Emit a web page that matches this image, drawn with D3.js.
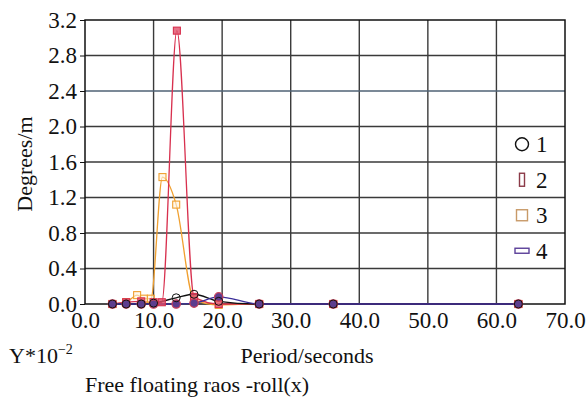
<!DOCTYPE html>
<html>
<head>
<meta charset="utf-8">
<script src="https://cdn.jsdelivr.net/npm/d3@7"></script>
<style>
  body { margin: 0; background: #fff; }
  svg, svg text { font-family: "Liberation Serif", "DejaVu Serif", serif !important; }
</style>
</head>
<body>
<div id="container"></div>
<script>
// periods (seconds) for each series
const periods1 = [4.0, 6.0, 8.2, 10.0, 13.3, 15.9, 19.5, 25.4, 36.2, 63.2];
const values1  = [0.0, 0.0, 0.0, 0.01, 0.07, 0.11, 0.03, 0.0, 0.0, 0.0];

const periods2 = [4.0, 6.0, 8.2, 10.0, 11.2, 13.4, 15.9, 19.5, 25.4, 36.2, 63.2];
const values2  = [0.0, 0.02, 0.03, 0.02, 0.02, 3.08, 0.08, 0.0, 0.0, 0.0, 0.0];

const periods3 = [4.0, 6.0, 7.6, 8.6, 9.6, 11.3, 13.3, 15.9, 19.5, 25.4, 36.2, 63.2];
const values3  = [0.0, 0.02, 0.10, 0.06, 0.06, 1.43, 1.12, 0.05, -0.01, 0.0, 0.0, 0.0];

const periods4 = [4.0, 6.0, 8.2, 10.0, 13.3, 15.9, 19.5, 25.4, 36.2, 63.2];
const values4  = [0.0, 0.0, 0.0, 0.0, 0.0, 0.01, 0.08, 0.0, 0.0, 0.0];

const seriesNames = ["1", "2", "3", "4"];
const xTicks = [0, 10, 20, 30, 40, 50, 60, 70];
const yTicks = [0, 0.4, 0.8, 1.2, 1.6, 2.0, 2.4, 2.8, 3.2];

const width = 587, height = 401;
const margin = {left: 85, right: 22, top: 20, bottom: 97};

const svg = d3.select("#container").append("svg")
    .attr("width", width)
    .attr("height", height);

const x = d3.scaleLinear().domain([0, 70]).range([margin.left, width - margin.right]);
const y = d3.scaleLinear().domain([0, 3.2]).range([height - margin.bottom, margin.top]);

// grid lines
svg.append("g")
    .selectAll("line")
    .data(xTicks.slice(1, -1))
    .join("line")
    .attr("x1", d => x(d)).attr("x2", d => x(d))
    .attr("y1", y(0)).attr("y2", y(3.2))
    .attr("stroke", "#3a3a3a")
    .attr("stroke-width", 1.4);

svg.append("g")
    .selectAll("line")
    .data(yTicks.slice(1, -1))
    .join("line")
    .attr("x1", x(0)).attr("x2", x(70))
    .attr("y1", d => y(d)).attr("y2", d => y(d))
    .attr("stroke", d => d === 2.4 ? "#4f6275" : "#3a3a3a")
    .attr("stroke-width", 1.4);

// plot border
svg.append("rect")
    .attr("x", x(0)).attr("y", y(3.2))
    .attr("width", x(70) - x(0)).attr("height", y(0) - y(3.2))
    .attr("fill", "none")
    .attr("stroke", "#111")
    .attr("stroke-width", 1.5);

// axes
const yAxis = svg.append("g")
    .attr("transform", `translate(${x(0)},0)`)
    .call(d3.axisLeft(y).tickValues(yTicks).tickFormat(d3.format(".1f")).tickSize(5).tickPadding(3));
yAxis.attr("font-family", null).attr("font-size", null);
yAxis.select(".domain").remove();
yAxis.selectAll("text").style("font-size", "23px").attr("fill", "#111");
yAxis.selectAll("line").attr("stroke", "#111");

const xAxis = svg.append("g")
    .attr("transform", `translate(0,${y(0)})`)
    .call(d3.axisBottom(x).tickValues(xTicks).tickFormat(d3.format(".1f")).tickSize(0).tickPadding(8));
xAxis.attr("font-family", null).attr("font-size", null);
xAxis.select(".domain").remove();
xAxis.selectAll("text").style("font-size", "23px").attr("fill", "#111");

// series
const series = [
    {name: "1", xs: periods1, ys: values1, color: "#111111"},
    {name: "2", xs: periods2, ys: values2, color: "#d8304e"},
    {name: "3", xs: periods3, ys: values3, color: "#f0a030"},
    {name: "4", xs: periods4, ys: values4, color: "#3b2f9a"}
];

const line = d3.line()
    .x(d => x(d[0]))
    .y(d => y(d[1]))
    .curve(d3.curveMonotoneX);

[2, 1, 0, 3].forEach(i => {
    const s = series[i];
    const pts = s.xs.map((p, j) => [p, s.ys[j]]);
    svg.append("path")
        .datum(pts)
        .attr("d", line)
        .attr("fill", "none")
        .attr("stroke", s.color)
        .attr("stroke-width", 1.3);
});

// markers
function drawMarkers(s, idx) {
    const pts = s.xs.map((p, j) => [p, s.ys[j]]);
    const g = svg.append("g");
    if (idx === 0) {
        g.selectAll("circle").data(pts).join("circle")
            .attr("cx", d => x(d[0])).attr("cy", d => y(d[1]))
            .attr("r", 4).attr("fill", "none").attr("stroke", "#111").attr("stroke-width", 1);
    } else if (idx === 3) {
        g.selectAll("circle").data(pts).join("circle")
            .attr("cx", d => x(d[0])).attr("cy", d => y(d[1]))
            .attr("r", 4.2).attr("fill", "#5c3d8e").attr("stroke", "#c8405a").attr("stroke-width", 1.2);
    } else {
        g.selectAll("rect").data(pts).join("rect")
            .attr("x", d => x(d[0]) - 3.5).attr("y", d => y(d[1]) - 3.5)
            .attr("width", 7).attr("height", 7)
            .attr("fill", idx === 1 ? "#e0506a" : "#fff4e0")
            .attr("fill-opacity", idx === 1 ? 0.8 : 0.6)
            .attr("stroke", s.color).attr("stroke-width", 1.1);
    }
}
[2, 1, 3, 0].forEach(i => drawMarkers(series[i], i));

// legend, one entry per grid cell on the right
const legend = svg.append("g");
seriesNames.forEach((name, i) => {
    const ly = y(1.8 - i * 0.4);
    const mx = 522;
    if (i === 0) {
        legend.append("circle").attr("cx", mx).attr("cy", ly).attr("r", 6.5)
            .attr("fill", "none").attr("stroke", "#111").attr("stroke-width", 1.4);
    } else if (i === 1) {
        legend.append("rect").attr("x", mx - 2.5).attr("y", ly - 6.5).attr("width", 5).attr("height", 13)
            .attr("fill", "#fff").attr("stroke", "#8b3a48").attr("stroke-width", 1.4);
    } else if (i === 2) {
        legend.append("rect").attr("x", mx - 5.5).attr("y", ly - 5.5).attr("width", 11).attr("height", 11)
            .attr("fill", "#fff").attr("stroke", "#c89a68").attr("stroke-width", 1.4);
    } else {
        legend.append("rect").attr("x", mx - 7).attr("y", ly - 2.5).attr("width", 14).attr("height", 5)
            .attr("fill", "#fff").attr("stroke", "#5b3f99").attr("stroke-width", 1.4);
    }
    legend.append("text")
        .attr("x", 536).attr("y", ly)
        .attr("dy", "0.35em")
        .style("font-size", "23px")
        .attr("fill", "#111")
        .text(name);
});

// axis titles
svg.append("text")
    .attr("transform", `translate(24,${(y(0) + y(3.2)) / 2 + 2}) rotate(-90)`)
    .attr("text-anchor", "middle")
    .attr("dy", "0.35em")
    .style("font-size", "22px")
    .attr("fill", "#111")
    .text("Degrees/m");

svg.append("text")
    .attr("x", 307).attr("y", 363)
    .attr("text-anchor", "middle")
    .style("font-size", "22px")
    .attr("fill", "#111")
    .text("Period/seconds");

const yLabel = svg.append("text")
    .attr("x", 9).attr("y", 363)
    .style("font-size", "22px")
    .attr("fill", "#111");
yLabel.append("tspan").text("Y*10");
yLabel.append("tspan").attr("dy", -9).style("font-size", "14px").text("\u22122");

svg.append("text")
    .attr("x", 85).attr("y", 392)
    .style("font-size", "22px")
    .attr("fill", "#111")
    .text("Free floating raos -roll(x)");
</script>
</body>
</html>
